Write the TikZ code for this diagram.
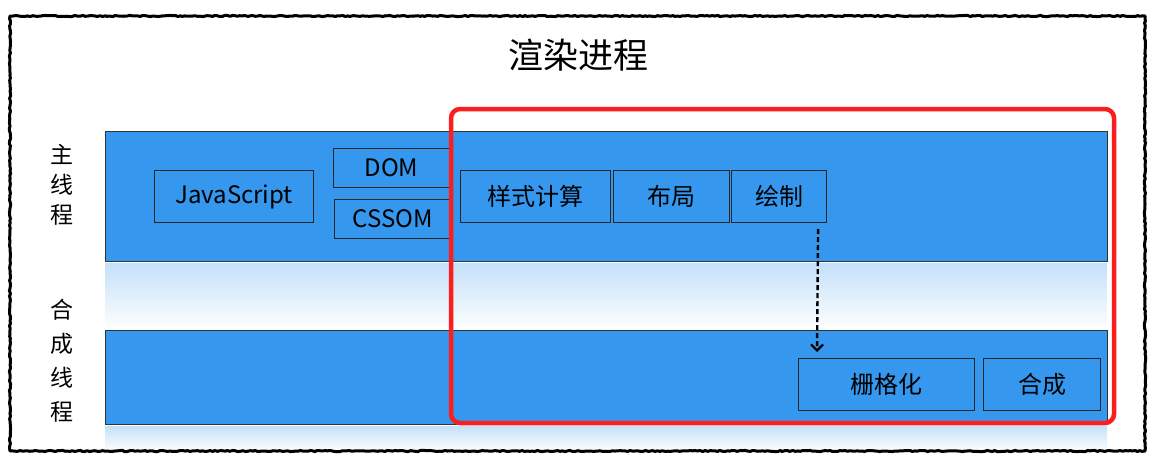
\documentclass[tikz,border=0pt]{standalone}
\usepackage{fontspec}
\setmainfont{Noto Sans CJK SC}
\usetikzlibrary{decorations.pathmorphing,arrows.meta}
\definecolor{barblue}{RGB}{53,152,238}
\definecolor{fadeblue}{RGB}{196,224,249}
\definecolor{framered}{RGB}{250,30,30}
\begin{document}
\begin{tikzpicture}[x=1pt,y=-1pt]
    % Define the styles for the stages, bars and arrows
    \tikzset{
        stage/.style={draw=black!85, line width=1.1pt, fill=barblue, anchor=north west, inner sep=0pt, font=\fontsize{24}{24}\selectfont},
        lane/.style={draw=black!80, line width=0.9pt, fill=barblue},
        fade/.style={top color=fadeblue, bottom color=white, draw=none},
        lanelabel/.style={font=\fontsize{23}{30}\selectfont, align=center},
        flow/.style={line width=2.4pt, dash pattern=on 5pt off 3pt, -{Straight Barb[length=6pt,width=12pt,line width=2.2pt]}}
    }
    \useasboundingbox (0,0) rectangle (1164,464);

    % Draw the thread lanes
    \shade[fade] (105,263) rectangle (1107,330);
    \shade[fade] (105,426) rectangle (1107,451);
    \draw[lane] (105,131) rectangle (1107,261);
    \draw[lane] (105,330) rectangle (1107,424);
    \node[lanelabel] (mainlabel) at (62,185) {主\\线\\程};
    \node[lanelabel, font=\fontsize{23}{34}\selectfont] (complabel) at (62,361) {合\\成\\线\\程};

    % Frame and title
    \draw[line width=3pt, black, line join=round, decorate, decoration={random steps, segment length=2.5pt, amplitude=0.6pt}] (10,16) rectangle (1145,451);
    \node[font=\fontsize{35}{35}\selectfont] (title) at (578,55) {渲染进程};

    % Draw the stages of the main thread
    \node[stage, minimum width=159, minimum height=52] (javascript) at (154,170) {JavaScript};
    \node[stage, minimum width=116, minimum height=39] (dom) at (333,148) {DOM};
    \node[stage, minimum width=116, minimum height=39] (cssom) at (334,199) {CSSOM};
    \node[stage, minimum width=150, minimum height=52] (style) at (460,170) {样式计算};
    \node[stage, minimum width=116, minimum height=52] (layout) at (613,170) {布局};
    \node[stage, minimum width=95, minimum height=52] (paint) at (731,170) {绘制};

    % Draw the stages of the compositor thread
    \node[stage, minimum width=176, minimum height=52] (raster) at (798,358) {栅格化};
    \node[stage, minimum width=117, minimum height=52] (composite) at (983,358) {合成};

    % Highlight the rendering stages
    \draw[framered, line width=4.5pt, rounded corners=9pt] (451,109) rectangle (1114,423);

    % Draw the arrow between the threads
    \draw[flow] ([xshift=-9pt,yshift=-6pt]paint.south east) -- ([xshift=19pt,yshift=6pt]raster.north west);
\end{tikzpicture}
\end{document}
